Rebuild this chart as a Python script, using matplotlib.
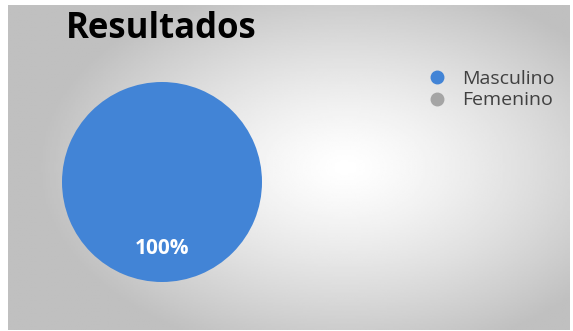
import matplotlib.pyplot as plt
import numpy as np
from matplotlib.lines import Line2D

# Data
labels = ['Masculino', 'Femenino']
values = [100, 0]
colors = ['#4284d6', '#a5a5a5']
title = 'Resultados'

fig = plt.figure(figsize=(5.73, 3.31), dpi=100)
fig.patch.set_facecolor('white')

# Background with a radial gradient (white centre, grey border)
bg = fig.add_axes([8 / 573, 1 / 331, 562 / 573, 325 / 331])
xx, yy = np.meshgrid(np.linspace(0, 1, 300), np.linspace(0, 1, 200))
r = np.sqrt(((xx - 0.6) / 0.55) ** 2 + ((yy - 0.5) / 0.6) ** 2)
shade = 1.0 - 0.25 * np.clip(r, 0, 1) ** 1.3
bg.imshow(shade, cmap='gray', vmin=0, vmax=1, aspect='auto', extent=[0, 1, 0, 1])
bg.set_axis_off()

# Pie
ax = fig.add_axes([62 / 573, 49 / 331, 200 / 573, 200 / 331])
wedges, texts, autotexts = ax.pie(
    values, colors=colors, startangle=90, radius=1,
    autopct=lambda p: f'{p:.0f}%' if p > 0 else '', pctdistance=0.66,
    textprops=dict(color='white', fontsize=15, fontweight='bold', family='Open Sans'))
ax.set_xlim(-1, 1)
ax.set_ylim(-1, 1)
ax.set_axis_off()

# Title
fig.text(66 / 573, 1 - 29 / 331, title, fontsize=25, fontweight='bold',
         family='Open Sans', va='center', ha='left', color='black')

# Legend
handles = [Line2D([], [], marker='o', linestyle='none', markersize=9,
                  markerfacecolor=c, markeredgecolor=c) for c in colors]
fig.legend(handles, labels, loc='upper left', bbox_to_anchor=(400 / 573, 1 - 52 / 331),
           frameon=False, handletextpad=0.3, labelspacing=0.2,
           prop=dict(family='Open Sans', size=14), labelcolor='#404040')

fig.savefig('out.png', dpi=100)
